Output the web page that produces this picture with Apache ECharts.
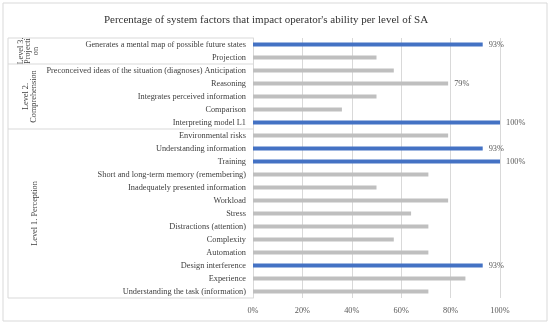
<!DOCTYPE html>
<html>
<head>
<meta charset="utf-8">
<script src="https://cdn.jsdelivr.net/npm/echarts@6/dist/echarts.min.js"></script>
<style>html,body{margin:0;padding:0;background:#fff}#c{width:550px;height:325px}</style>
</head>
<body>
<div id="c"></div>
<script>
var categories = [
  'Generates a mental map of possible future states',
  'Projection',
  'Preconceived ideas of the situation (diagnoses) Anticipation',
  'Reasoning',
  'Integrates perceived information',
  'Comparison',
  'Interpreting model L1',
  'Environmental risks',
  'Understanding information',
  'Training',
  'Short and long-term memory (remembering)',
  'Inadequately presented information',
  'Workload',
  'Stress',
  'Distractions (attention)',
  'Complexity',
  'Automation',
  'Design interference',
  'Experience',
  'Understanding the task (information)'
];
var values = [93, 50, 57, 79, 50, 36, 100, 79, 93, 100, 71, 50, 79, 64, 71, 57, 71, 93, 86, 71];
var highlighted = [1,0,0,0,0,0,1,0,1,1,0,0,0,0,0,0,0,1,0,0];
var labeled = [1,0,0,1,0,0,1,0,1,1,0,0,0,0,0,0,0,1,0,0];
var groupNames = ['Level 3.\nProjecti\non', 'Level 2.\nComprehension', 'Level 1. Perception'];
var groupStarts = [0, 2, 7];
var groupEnds = [2, 7, 20];
var xTicks = [0, 20, 40, 60, 80, 100];

var FONT = '"Liberation Serif", "DejaVu Serif", serif';
var chart = echarts.init(document.getElementById('c'));
var data = values.map(function (v, i) {
  return {
    value: v,
    itemStyle: { color: highlighted[i] ? '#4472C4' : '#BFBFBF' },
    label: { show: !!labeled[i] }
  };
});
var option = {
  animation: false,
  backgroundColor: '#fff',
  title: {
    text: "Percentage of system factors that impact operator's ability per level of SA",
    left: 261, top: 10, textAlign: 'center',
    textStyle: { fontFamily: FONT, fontSize: 11, fontWeight: 'normal', color: '#333333' }
  },
  grid: { left: 253, right: 50, top: 38, bottom: 27, containLabel: false },
  xAxis: {
    type: 'value', min: xTicks[0], max: xTicks[xTicks.length - 1], interval: 20,
    axisLine: { show: false }, axisTick: { show: false },
    splitLine: { lineStyle: { color: '#d9d9d9', width: 1 } },
    axisLabel: { formatter: '{value}%', fontFamily: FONT, fontSize: 8.3, color: '#595959', margin: 9 }
  },
  yAxis: {
    type: 'category', data: categories, inverse: true,
    axisLine: { show: true, lineStyle: { color: '#d9d9d9' } },
    axisTick: { show: false },
    axisLabel: { fontFamily: FONT, fontSize: 8.3, color: '#404040', margin: 7, interval: 0 }
  },
  series: [{
    type: 'bar', data: data, barWidth: 4,
    label: { position: 'right', distance: 6, formatter: '{c}%', fontFamily: FONT, fontSize: 8.3, color: '#595959' }
  }]
};
chart.setOption(option);

// group labels and separators, positioned via the axis scale
var c0 = chart.convertToPixel({ yAxisIndex: 0 }, 0);
var c1 = chart.convertToPixel({ yAxisIndex: 0 }, 1);
var band = c1 - c0;
function edge(i) { return c0 + (i - 0.5) * band; }
var xAxis0 = chart.convertToPixel({ xAxisIndex: 0 }, 0);
var leftX = 8;
var labelX = [28, 30, 35];
var g = [];
g.push({ type: 'rect', shape: { x: 3, y: 3, width: 544, height: 318 }, style: { fill: null, stroke: '#d9d9d9', lineWidth: 1 }, silent: true });
g.push({ type: 'line', shape: { x1: leftX, y1: edge(0), x2: leftX, y2: edge(20) }, style: { stroke: '#d9d9d9', lineWidth: 1 } });
for (var k = 0; k < groupNames.length; k++) {
  var yTop = edge(groupStarts[k]);
  var yBot = edge(groupEnds[k]);
  g.push({ type: 'line', shape: { x1: leftX, y1: yTop, x2: xAxis0, y2: yTop }, style: { stroke: '#d9d9d9', lineWidth: 1 } });
  g.push({
    type: 'text', x: labelX[k], y: (yTop + yBot) / 2, rotation: Math.PI / 2,
    style: { text: groupNames[k], fontFamily: FONT, fontSize: 8.3, fill: '#404040', align: 'center', verticalAlign: 'middle', lineHeight: 7.5 }
  });
}
g.push({ type: 'line', shape: { x1: leftX, y1: edge(20), x2: xAxis0, y2: edge(20) }, style: { stroke: '#d9d9d9', lineWidth: 1 } });
chart.setOption({ graphic: g });
</script>
</body>
</html>
